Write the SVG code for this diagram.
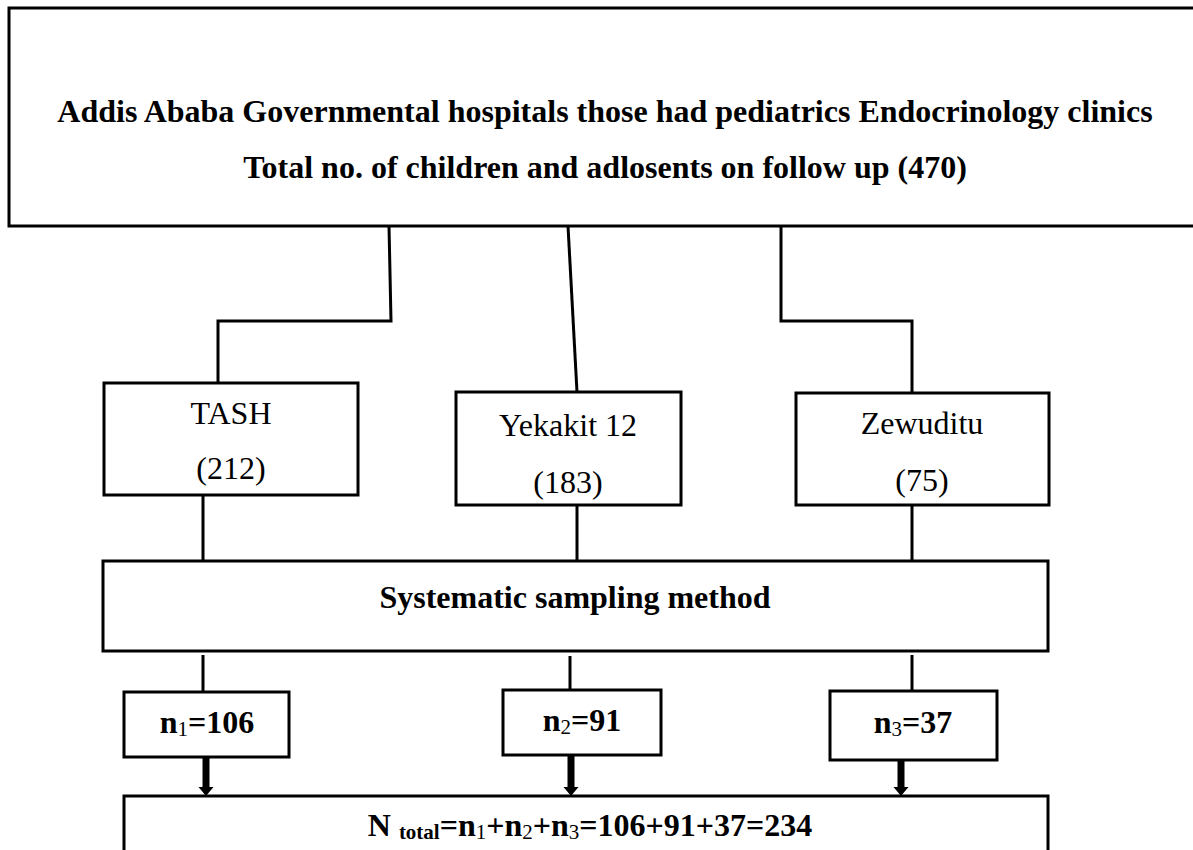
<svg xmlns="http://www.w3.org/2000/svg" width="1193" height="850" viewBox="0 0 1193 850">
<style>
.box{fill:#fff;stroke:#000;stroke-width:3}
.ln{fill:none;stroke:#000;stroke-width:3}
.ar{fill:none;stroke:#000;stroke-width:7}
.t{font-family:"Liberation Serif","Times New Roman",serif;font-size:32px;fill:#000;text-anchor:middle}
.b{font-weight:bold}
.sub{font-size:21px;font-weight:normal}
</style>
<defs>
<marker id="ah" markerUnits="userSpaceOnUse" markerWidth="10" markerHeight="16" refX="0" refY="7.5" orient="auto">
<path d="M0,0 L9,7.5 L0,15 z" fill="#000"/>
</marker>
</defs>
<rect width="1193" height="850" fill="#fff"/>
<g id="connectors">
<polyline class="ln" points="389,226 391,321 218,321 218,383"/>
<polyline class="ln" points="568,226 577,392"/>
<polyline class="ln" points="781,226 781,321 912,321 912,393"/>
<line class="ln" x1="203" y1="495" x2="203" y2="561"/>
<line class="ln" x1="577" y1="505" x2="577" y2="561"/>
<line class="ln" x1="912" y1="505" x2="912" y2="561"/>
<line class="ln" x1="203" y1="655" x2="203" y2="692"/>
<line class="ln" x1="570" y1="656" x2="570" y2="690"/>
<line class="ln" x1="912" y1="655" x2="912" y2="691"/>
<line class="ar" x1="206" y1="758" x2="206" y2="787" marker-end="url(#ah)"/>
<line class="ar" x1="571" y1="756" x2="571" y2="787" marker-end="url(#ah)"/>
<line class="ar" x1="901" y1="761" x2="901" y2="787" marker-end="url(#ah)"/>
</g>
<g id="top">
<rect x="9" y="8" width="1200" height="218" fill="#fff" stroke="#000" stroke-width="3"/>
<text class="t b" x="605" y="122">Addis Ababa Governmental hospitals those had pediatrics Endocrinology clinics</text>
<text class="t b" x="605" y="178">Total no. of children and adlosents on follow up (470)</text>
</g>
<g id="tash">
<rect class="box" x="104" y="383" width="254" height="112"/>
<text class="t" x="231" y="424">TASH</text>
<text class="t" x="231" y="479">(212)</text>
</g>
<g id="yekakit">
<rect class="box" x="456" y="392" width="225" height="113"/>
<text class="t" x="568" y="436">Yekakit 12</text>
<text class="t" x="568" y="493">(183)</text>
</g>
<g id="zewuditu">
<rect class="box" x="796" y="393" width="253" height="112"/>
<text class="t" x="922" y="434">Zewuditu</text>
<text class="t" x="922" y="491">(75)</text>
</g>
<g id="systematic">
<rect class="box" x="103" y="561" width="945" height="90"/>
<text class="t b" x="575" y="608">Systematic sampling method</text>
</g>
<g id="n1">
<rect class="box" x="124" y="692" width="165" height="65"/>
<text class="t b" x="207" y="733">n<tspan class="sub" dy="3">1</tspan><tspan dy="-3">=106</tspan></text>
</g>
<g id="n2">
<rect class="box" x="503" y="690" width="158" height="65"/>
<text class="t b" x="582" y="731">n<tspan class="sub" dy="3">2</tspan><tspan dy="-3">=91</tspan></text>
</g>
<g id="n3">
<rect class="box" x="830" y="691" width="167" height="69"/>
<text class="t b" x="913" y="733">n<tspan class="sub" dy="3">3</tspan><tspan dy="-3">=37</tspan></text>
</g>
<g id="total">
<rect class="box" x="124" y="796" width="924" height="80"/>
<text class="t b" x="590" y="836">N <tspan style="font-size:21px" dy="3">total</tspan><tspan dy="-3">=n</tspan><tspan class="sub" dy="3">1</tspan><tspan dy="-3">+n</tspan><tspan class="sub" dy="3">2</tspan><tspan dy="-3">+n</tspan><tspan class="sub" dy="3">3</tspan><tspan dy="-3">=106+91+37=234</tspan></text>
</g>
</svg>
